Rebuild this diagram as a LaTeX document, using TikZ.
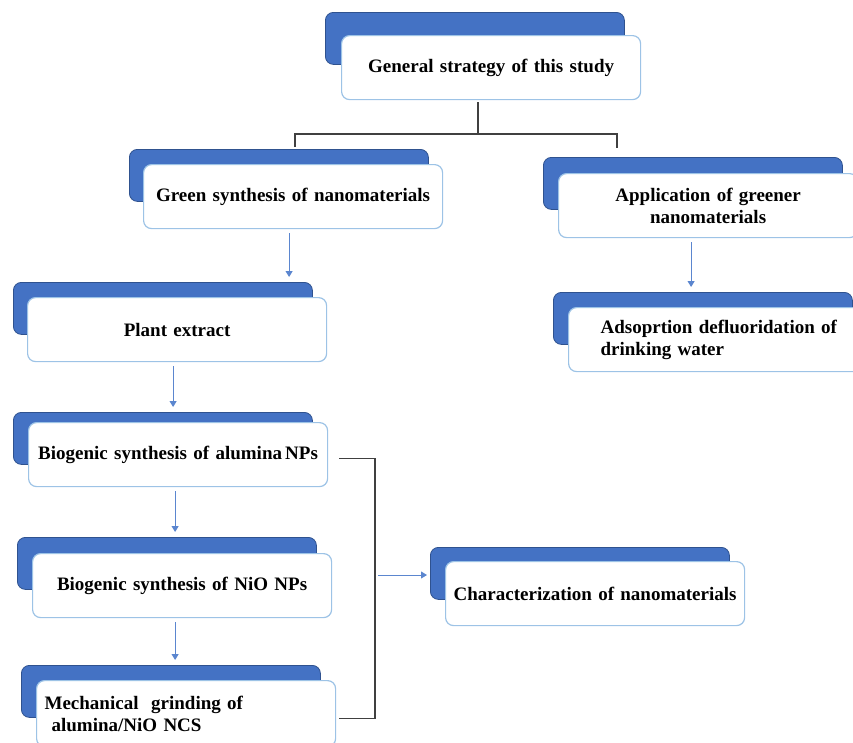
\documentclass[tikz,border=0pt]{standalone}
\usepackage{fontspec}
\setmainfont{Liberation Serif}
\usetikzlibrary{arrows.meta}
\definecolor{boxblue}{HTML}{4472C4}
\definecolor{boxedge}{HTML}{2F528F}
\definecolor{frameblue}{HTML}{9DC3E6}
\definecolor{arrblue}{HTML}{5B86CF}
\definecolor{linegray}{HTML}{404040}

\begin{document}
\begin{tikzpicture}[x=1pt,y=-1pt,
        backbox/.style={draw=boxedge, fill=boxblue, line width=0.8pt, rounded corners=8pt,
            minimum width=299pt, minimum height=52pt, anchor=north west, inner sep=0pt},
        frontbox/.style={draw=frameblue, fill=white, line width=1.2pt, rounded corners=8pt,
            minimum width=299pt, minimum height=64pt, anchor=north west, inner xsep=8pt,
            text width=283pt, align=center, font=\fontsize{19}{22}\selectfont\bfseries},
        link/.style={draw=linegray, line width=1.2pt},
        flow/.style={draw=arrblue, line width=1pt, -{Triangle[width=7pt,length=6pt]},
            shorten <=4pt, shorten >=5pt}]
        \clip (0,0) rectangle (853,742);

        % shadow boxes
        \node[backbox] (genB) at (325,12) {};
        \node[backbox] (greenB) at (129,149) {};
        \node[backbox] (appB) at (543,157) {};
        \node[backbox] (adsB) at (553,292) {};
        \node[backbox] (plantB) at (13,282) {};
        \node[backbox] (bioAB) at (13,412) {};
        \node[backbox] (nioB) at (17,537) {};
        \node[backbox] (mechB) at (21,665) {};
        \node[backbox] (charB) at (430,547) {};

        % text boxes
        \node[frontbox] (gen) at ([shift={(16,23)}]genB.north west) {General strategy of this study};
        \node[frontbox] (green) at ([shift={(14,15)}]greenB.north west) {Green synthesis of nanomaterials};
        \node[frontbox] (app) at ([shift={(15,16)}]appB.north west) {Application of greener\\nanomaterials};
        \node[frontbox, align=left, inner xsep=32pt, text width=260pt] (ads) at ([shift={(15,15)}]adsB.north west) {Adsoprtion defluoridation of\\drinking water};
        \node[frontbox] (plant) at ([shift={(14,15)}]plantB.north west) {Plant extract};
        \node[frontbox] (bioA) at ([shift={(15,10)}]bioAB.north west) {Biogenic synthesis of alumina\,NPs};
        \node[frontbox] (nio) at ([shift={(15,16)}]nioB.north west) {Biogenic synthesis of NiO NPs};
        \node[frontbox, align=left, minimum height=66pt] (mech) at ([shift={(15,15)}]mechB.north west) {Mechanical\ \ grinding of\\\hspace*{7pt}alumina/NiO NCS};
        \node[frontbox] (char) at ([shift={(15,14)}]charB.north west) {Characterization of nanomaterials};

        % tree lines
        \coordinate (split) at (478,134);
        \coordinate (toL) at (295,147);
        \coordinate (toR) at (617,148);
        \draw[link] ([yshift=-2pt]gen.south -| split) -- (split);
        \draw[link] (toL) |- (split) -| (toR);

        % flow arrows
        \draw[flow] ([xshift=-4pt]green.south) -- ([xshift=-4pt]green.south |- plantB.north);
        \draw[flow] ([xshift=-17pt]app.south) -- ([xshift=-17pt]app.south |- adsB.north);
        \draw[flow] ([xshift=-4pt]plant.south) -- ([xshift=-4pt]plant.south |- bioAB.north);
        \draw[flow] ([xshift=-3pt]bioA.south) -- ([xshift=-3pt]bioA.south |- nioB.north);
        \draw[flow] ([xshift=-7pt]nio.south) -- ([xshift=-7pt]nio.south |- mechB.north);

        % bracket to characterization
        \coordinate (brk) at (375,575);
        \draw[link] ([shift={(11,4)}]bioA.east) -| (brk) |- ([shift={(3,5)}]mech.east);
        \draw[flow, shorten <=3pt, shorten >=3pt] (brk) -- (brk -| charB.west);
    \end{tikzpicture}
\end{document}
